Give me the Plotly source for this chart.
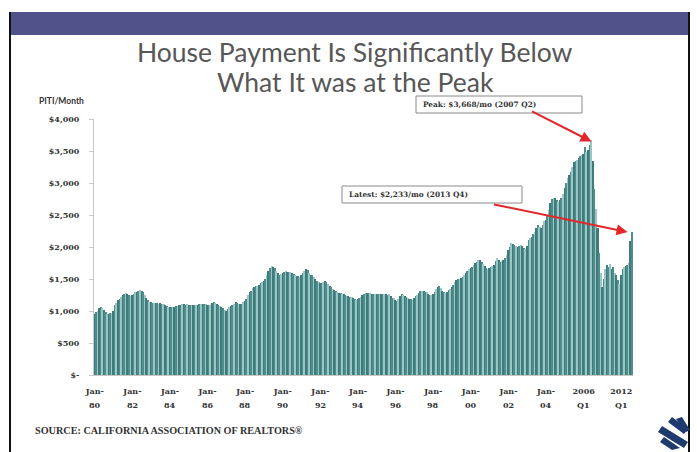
import plotly.graph_objects as go

# ---------------- data (PITI per month, USD) ----------------
y1980 = [950, 980, 1000, 1040, 1065, 1050, 1015, 985, 950, 955, 965, 975]
y1981 = [1000, 1090, 1130, 1170, 1190, 1220, 1250, 1265, 1275, 1270, 1255, 1240]
y1982 = [1245, 1265, 1290, 1300, 1315, 1328, 1315, 1290, 1250, 1210, 1175, 1146]
y1983 = [1135, 1120, 1120, 1125, 1120, 1115, 1120, 1115, 1105, 1090, 1075, 1068]
y1984 = [1068, 1065, 1070, 1068, 1072, 1080, 1090, 1100, 1105, 1104, 1100, 1102]
y1985 = [1098, 1094, 1092, 1094, 1096, 1098, 1100, 1104, 1106, 1104, 1102, 1104]
y1986 = [1100, 1094, 1100, 1120, 1135, 1130, 1104, 1090, 1075, 1060, 1042, 1020]
y1987 = [1005, 1030, 1068, 1085, 1100, 1115, 1135, 1125, 1110, 1104, 1115, 1135]
y1988 = [1150, 1180, 1250, 1290, 1320, 1354, 1370, 1385, 1396, 1410, 1430, 1455]
y1989 = [1470, 1500, 1560, 1620, 1670, 1703, 1690, 1667, 1630, 1590, 1565, 1580]
y1990 = [1600, 1615, 1620, 1615, 1610, 1615, 1600, 1580, 1562, 1550, 1540, 1536]
y1991 = [1560, 1599, 1630, 1651, 1640, 1600, 1570, 1560, 1530, 1500, 1474, 1460]
y1992 = [1440, 1432, 1450, 1474, 1460, 1420, 1390, 1370, 1350, 1330, 1318, 1300]
y1993 = [1285, 1276, 1265, 1260, 1250, 1240, 1235, 1224, 1215, 1200, 1180, 1172]
y1994 = [1180, 1200, 1224, 1250, 1270, 1286, 1285, 1280, 1276, 1270, 1265, 1260]
y1995 = [1260, 1262, 1258, 1260, 1265, 1262, 1258, 1255, 1260, 1240, 1210, 1198]
y1996 = [1175, 1161, 1190, 1230, 1266, 1250, 1240, 1224, 1210, 1195, 1180, 1172]
y1997 = [1200, 1230, 1250, 1280, 1305, 1318, 1315, 1302, 1290, 1270, 1255, 1250]
y1998 = [1270, 1300, 1339, 1370, 1391, 1360, 1320, 1290, 1285, 1300, 1330, 1350]
y1999 = [1380, 1410, 1450, 1484, 1495, 1505, 1510, 1530, 1560, 1589, 1620, 1650]
y2000 = [1670, 1692, 1720, 1750, 1771, 1790, 1797, 1770, 1734, 1700, 1667, 1660]
y2001 = [1670, 1682, 1700, 1719, 1780, 1823, 1800, 1771, 1780, 1797, 1830, 1880]
y2002 = [1953, 2000, 2057, 2045, 2031, 2020, 2005, 2015, 2031, 2010, 1985, 1963]
y2003 = [2020, 2109, 2140, 2161, 2200, 2239, 2290, 2344, 2320, 2291, 2350, 2400]
y2004 = [2422, 2500, 2578, 2680, 2750, 2770, 2760, 2730, 2700, 2730, 2760, 2830]
y2005 = [2917, 3000, 3073, 3130, 3177, 3250, 3333, 3350, 3359, 3390, 3420, 3437]

# quarterly 2006 Q1 .. 2013 Q4
q2006_2013 = [3450, 3560, 3480, 3520, 3590, 3668, 3350, 2900,
              2600, 2300, 1900, 1600, 1380, 1500, 1650, 1720,
              1680, 1730, 1650, 1680, 1600, 1560, 1480, 1420,
              1560, 1660, 1680, 1700, 1720, 1750, 2100, 2233]

monthly_years = list(range(1980, 2006))
monthly_blocks = [y1980, y1981, y1982, y1983, y1984, y1985, y1986, y1987, y1988,
                  y1989, y1990, y1991, y1992, y1993, y1994, y1995, y1996, y1997,
                  y1998, y1999, y2000, y2001, y2002, y2003, y2004, y2005]

tick_cats = ["1980-01", "1982-01", "1984-01", "1986-01", "1988-01", "1990-01",
             "1992-01", "1994-01", "1996-01", "1998-01", "2000-01", "2002-01",
             "2004-01", "2006 Q1", "2012 Q1"]
tick_line1 = ["Jan-"] * 13 + ["2006", "2012"]
tick_line2 = ["80", "82", "84", "86", "88", "90", "92", "94", "96", "98",
              "00", "02", "04", "Q1", "Q1"]

ytick_vals = [0, 500, 1000, 1500, 2000, 2500, 3000, 3500, 4000]
ytick_text = ["$-", "$500", "$1,000", "$1,500", "$2,000", "$2,500",
              "$3,000", "$3,500", "$4,000"]

peak_label = "Peak: $3,668/mo (2007 Q2)"
latest_label = "Latest: $2,233/mo (2013 Q4)"

# ---------------- build categories ----------------
categories, values = [], []
for yr, block in zip(monthly_years, monthly_blocks):
    for m, v in enumerate(block):
        categories.append(f"{yr}-{m + 1:02d}")
        values.append(v)
for i, v in enumerate(q2006_2013):
    categories.append(f"{2006 + i // 4} Q{i % 4 + 1}")
    values.append(v)

# striped look of the original (alternating teal shades)
stripe_cycle = ["#3e7c7c", "#4f8c8c", "#9cc5c5"]
bar_colors = [stripe_cycle[i % 3] for i in range(len(categories))]

# ---------------- layout geometry (pixels) ----------------
W, H = 697, 452
L, R, T, B = 94, 64, 119, 77
PW, PH = W - L - R, H - T - B


def px(x):
    return (x - L) / PW


def py(y):
    return (H - B - y) / PH


fig = go.Figure()
fig.add_trace(go.Bar(x=categories, y=values,
                     marker=dict(color=bar_colors, line=dict(width=0)),
                     showlegend=False))

tick_font = dict(family="DejaVu Serif", size=8, color="#333333")
ser_bold = "DejaVu Serif"

shapes = [
    dict(type="rect", xref="paper", yref="paper", x0=px(10), x1=px(689),
         y0=py(12), y1=py(35), fillcolor="#52528a", line=dict(width=0), layer="below"),
    dict(type="line", xref="paper", yref="paper", x0=px(10), x1=px(10),
         y0=py(12), y1=py(452), line=dict(color="#111111", width=2)),
    dict(type="line", xref="paper", yref="paper", x0=px(689), x1=px(689),
         y0=py(12), y1=py(452), line=dict(color="#111111", width=2)),
    dict(type="rect", xref="paper", yref="paper", x0=px(416), x1=px(582),
         y0=py(96), y1=py(113), fillcolor="white", line=dict(color="#8a8a8a", width=1)),
    dict(type="rect", xref="paper", yref="paper", x0=px(342), x1=px(522),
         y0=py(186), y1=py(203), fillcolor="white", line=dict(color="#8a8a8a", width=1)),
]

logo_polys = [
    [(672, 417), (688, 429), (684, 434), (668, 422)],
    [(662, 426), (688, 442), (684, 448), (658, 432)],
    [(664, 437), (680, 448), (672, 450), (660, 442)],
    [(676, 419), (682, 417), (690, 430), (686, 432)],
]
for poly in logo_polys:
    path = "M " + " L ".join(f"{px(x):.4f},{py(y):.4f}" for x, y in poly) + " Z"
    shapes.append(dict(type="path", xref="paper", yref="paper", path=path,
                       fillcolor="#1f3a6e", line=dict(width=0)))

annotations = [
    dict(text="House Payment Is Significantly Below", xref="paper", yref="paper",
         x=px(355), y=py(52), xanchor="center", yanchor="middle", showarrow=False,
         font=dict(family="Lato", size=26.5, color="#575757")),
    dict(text="What It was at the Peak", xref="paper", yref="paper",
         x=px(355), y=py(82), xanchor="center", yanchor="middle", showarrow=False,
         font=dict(family="Lato", size=26.5, color="#575757")),
    dict(text="<b>PITI/Month</b>", xref="paper", yref="paper",
         x=px(37), y=py(101), xanchor="left", yanchor="middle", showarrow=False,
         font=dict(family="Lato", size=8.5, color="#333333")),
    dict(text="<b>SOURCE: CALIFORNIA ASSOCIATION OF REALTORS®</b>", xref="paper",
         yref="paper", x=px(33), y=py(430), xanchor="left", yanchor="middle",
         showarrow=False, font=dict(family="Liberation Sans Narrow", size=10.2, color="#333333")),
    dict(text="<b>" + peak_label + "</b>", xref="paper", yref="paper",
         x=px(421), y=py(104.5), xanchor="left", yanchor="middle", showarrow=False,
         font=dict(family=ser_bold, size=7.4, color="#333333")),
    dict(text="<b>" + latest_label + "</b>", xref="paper", yref="paper",
         x=px(347), y=py(194.5), xanchor="left", yanchor="middle", showarrow=False,
         font=dict(family=ser_bold, size=7.4, color="#333333")),
    dict(text="", x="2007 Q2", y=q2006_2013[5] - 20, xref="x", yref="y",
         ax=-61, ay=-31, showarrow=True, arrowhead=2, arrowsize=1.1,
         arrowwidth=2, arrowcolor="#e3262a"),
    dict(text="", x="2013 Q1", y=q2006_2013[-1], xref="x", yref="y",
         ax=-135, ay=-28, showarrow=True, arrowhead=2, arrowsize=1.1,
         arrowwidth=2, arrowcolor="#e3262a"),
]
for c, t in zip(tick_cats, tick_line2):
    annotations.append(dict(text="<b>" + t + "</b>", x=c, xref="x", yref="paper",
                            y=py(405), xanchor="center", yanchor="middle",
                            showarrow=False, font=tick_font))

fig.update_layout(
    width=W, height=H,
    margin=dict(l=L, r=R, t=T, b=B, pad=0),
    paper_bgcolor="white", plot_bgcolor="white",
    bargap=0,
    shapes=shapes, annotations=annotations,
    xaxis=dict(type="category", range=[-0.5, len(categories) - 0.5],
               tickmode="array", tickvals=tick_cats,
               ticktext=["<b>" + t + "</b>" for t in tick_line1],
               tickangle=0, ticks="", showgrid=False, zeroline=False,
               showline=True, linecolor="#c8c8c8", linewidth=1,
               tickfont=tick_font, ticklabelstandoff=8),
    yaxis=dict(range=[0, 4000], tickmode="array", tickvals=ytick_vals,
               ticktext=["<b>" + t + "</b>" for t in ytick_text],
               ticks="outside", ticklen=4, tickcolor="#c8c8c8",
               showgrid=False, zeroline=False, showline=True,
               linecolor="#c8c8c8", linewidth=1, tickfont=tick_font,
               ticklabelstandoff=8),
)

fig.write_html("out.html")
